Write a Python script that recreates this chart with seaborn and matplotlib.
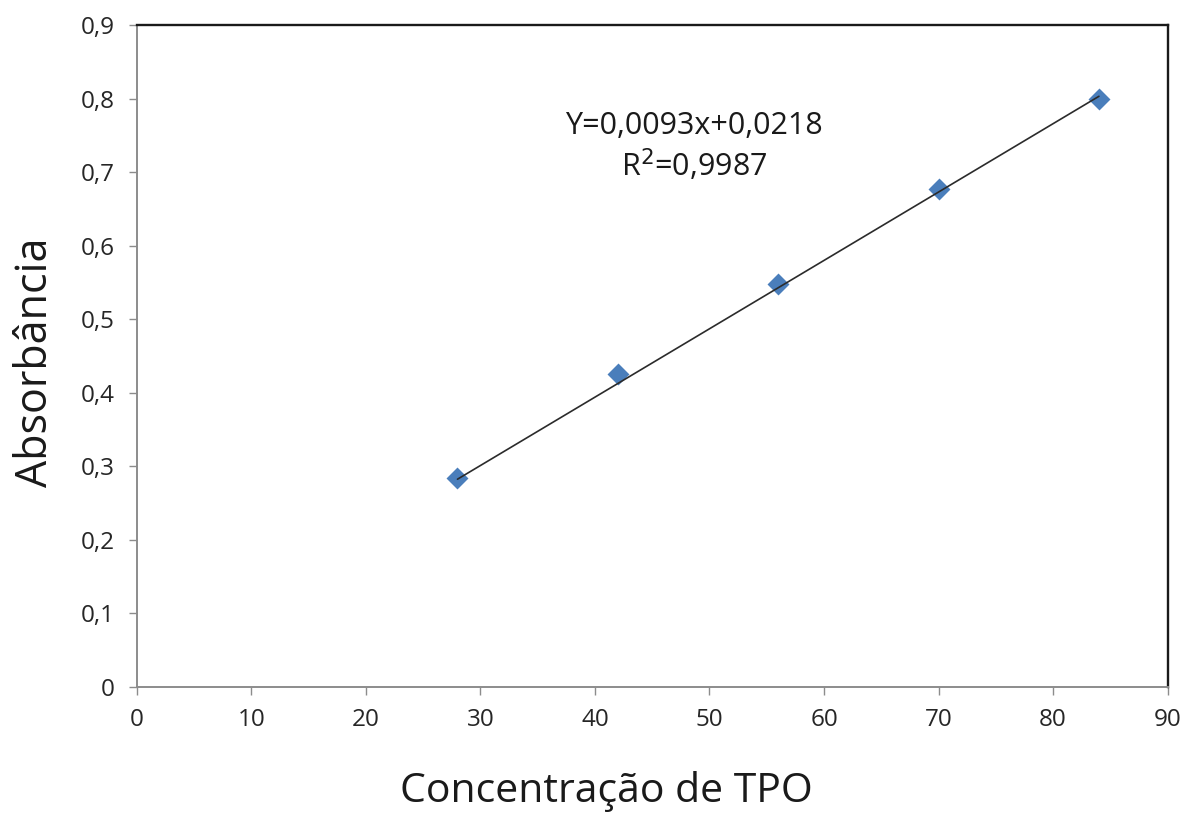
import matplotlib
matplotlib.use("Agg")
import matplotlib.pyplot as plt
import numpy as np
import pandas as pd
import seaborn as sns

# Calibration data: TPO concentration vs absorbance
concentracao = [28, 42, 56, 70, 84]
absorbancia = [0.284, 0.425, 0.548, 0.677, 0.799]

# Linear trend line coefficients and fit quality
inclinacao = 0.0093
intercepto = 0.0218
r2 = 0.9987

x_ticks = [0, 10, 20, 30, 40, 50, 60, 70, 80, 90]
y_ticks = [0, 0.1, 0.2, 0.3, 0.4, 0.5, 0.6, 0.7, 0.8, 0.9]
y_tick_labels = ["0", "0,1", "0,2", "0,3", "0,4", "0,5", "0,6", "0,7", "0,8", "0,9"]

sns.set_style("white")
plt.rcParams["font.family"] = ["Open Sans", "DejaVu Sans"]

df = pd.DataFrame({"conc": concentracao, "abs": absorbancia})

fig = plt.figure(figsize=(11.84, 8.14), dpi=100)
ax = fig.add_axes([0.1155, 0.1564, 0.8707, 0.8129])

sns.scatterplot(data=df, x="conc", y="abs", marker="D", s=125,
                color="#4A7EBB", linewidth=0, ax=ax, zorder=3)

x_lin = [min(concentracao), max(concentracao)]
y_lin = [inclinacao * v + intercepto for v in x_lin]
sns.lineplot(x=x_lin, y=y_lin, color="#2b2b2b", linewidth=1.2, ax=ax, zorder=4)

ax.set_xlim(0, 90)
ax.set_ylim(0, 0.9)
ax.set_xticks(x_ticks)
ax.set_xticklabels([str(v) for v in x_ticks])
ax.set_yticks(y_ticks)
ax.set_yticklabels(y_tick_labels)

ax.tick_params(axis="both", direction="out", length=6, width=1.0,
               color="#8c8c8c", labelsize=17.5, labelcolor="#262626",
               bottom=True, left=True)
ax.tick_params(axis="y", pad=10)
ax.tick_params(axis="x", pad=9)

for side in ("left", "bottom"):
    ax.spines[side].set_color("#8c8c8c")
    ax.spines[side].set_linewidth(1.4)
for side in ("top", "right"):
    ax.spines[side].set_color("#1a1a1a")
    ax.spines[side].set_linewidth(1.7)

ax.set_xlabel("Concentração de TPO", fontsize=29.5, color="#1a1a1a")
ax.set_ylabel("Absorbância", fontsize=31, color="#1a1a1a")
ax.xaxis.label.set_va("center")
ax.yaxis.label.set_va("center")
ax.xaxis.set_label_coords(0.4557, -0.158)
ax.yaxis.set_label_coords(-0.098, 0.49)

ax.text(48.65, 0.762, f"Y={inclinacao:.4f}x+{intercepto:.4f}".replace(".", ","),
        ha="center", va="center", fontsize=22, color="#1a1a1a")
ax.text(48.65, 0.709, f"R$^2$={r2:.4f}".replace(".", ","),
        ha="center", va="center", fontsize=22, color="#1a1a1a")

fig.savefig("out.png", dpi=100, facecolor="white")
